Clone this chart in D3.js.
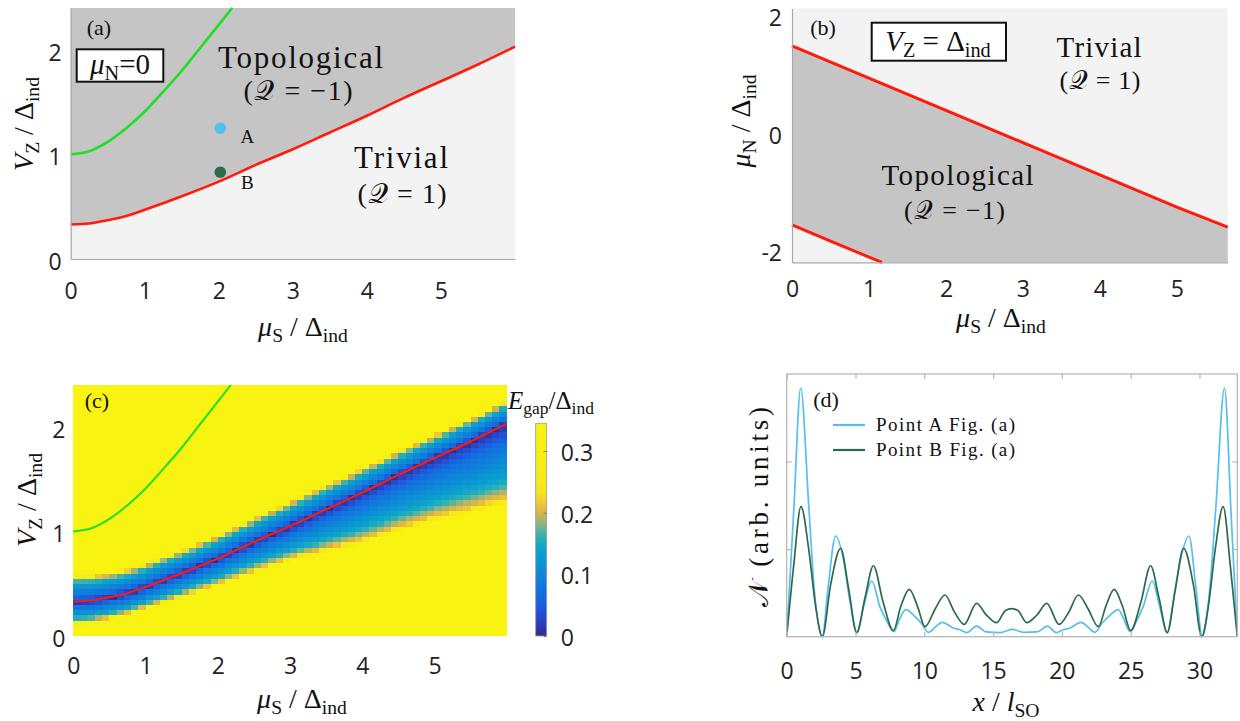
<!DOCTYPE html>
<html>
<head>
<meta charset="utf-8">
<script src="https://cdn.jsdelivr.net/npm/d3@7"></script>
<style>
  body { margin: 0; background: #fff; }
  svg { display: block; }
</style>
</head>
<body>
<div id="fig"></div>
<script>
// ---------- data ----------
// topological / trivial boundary (red) and upper gap closing (green), panels (a) and (c)
const redMu = [0, 0.25, 0.5, 0.75, 1, 1.5, 2, 2.5, 3, 3.5, 4, 4.5, 5, 5.5, 6];
const redV = [0.33, 0.34, 0.37, 0.41, 0.47, 0.6, 0.74, 0.9, 1.05, 1.21, 1.37, 1.54, 1.7, 1.86, 2.03];
const greenMu = [0, 0.25, 0.5, 0.75, 1, 1.25, 1.5, 1.75, 2, 2.18];
const greenV = [1.0, 1.03, 1.12, 1.25, 1.41, 1.6, 1.8, 2.02, 2.24, 2.4];
const pointNames = ["A", "B"];
const pointMu = [2.02, 2.02];
const pointV = [1.25, 0.83];

// panel (b): boundaries at V_Z = Delta_ind
const bUpperMu = [0, 1, 2, 3, 4, 5, 5.66];
const bUpperN = [1.48, 0.93, 0.38, -0.17, -0.72, -1.27, -1.61];
const bLowerMu = [0, 0.5, 1, 1.17];
const bLowerN = [-1.57, -1.85, -2.12, -2.21];

// panel (c): gap band around the red line (widths above / below it) and the gap profile across it
const bandMu = [0, 1, 2, 3, 4, 5, 6];
const bandUp = [0.21, 0.19, 0.19, 0.2, 0.2, 0.19, 0.19];
const bandDown = [0.18, 0.17, 0.21, 0.27, 0.4, 0.5, 0.64];
const profT = [0, 0.1, 0.3, 0.6, 0.8, 0.92, 1.0, 1.1, 1.2];
const profGap = [0, 0.03, 0.075, 0.11, 0.14, 0.165, 0.19, 0.215, 0.34];
const cmapStops = [0, 0.02, 0.05, 0.08, 0.11, 0.14, 0.16, 0.18, 0.2, 0.215, 0.235, 0.345];
const cmapColors = ["#352a87", "#2c3fbd", "#1a5fe0", "#1177dd", "#0c8fd6", "#0ba4cc", "#2ab1b5",
  "#80b58a", "#dcb24c", "#f0c832", "#f6e61e", "#f8f40f"];
const cbarTicks = [0, 0.1, 0.2, 0.3];

// panel (d): density along the wire
const xA = [0, 0.5, 1.02, 1.6, 2.0, 2.59, 3.0, 3.56, 4.1, 4.6, 5.09, 5.6, 6.18, 6.78, 7.3, 7.8, 8.2, 8.65,
  9.33, 9.8, 10.3, 10.8, 11.3, 12.1, 12.6, 13.1, 13.8, 14.5, 15.5, 16.4, 17.2, 18.2, 18.95, 19.6,
  20.1, 20.6, 21.4, 21.9, 22.4, 22.9, 23.4, 24.1, 24.5, 24.95, 25.4, 25.9, 26.57, 27.1, 27.65, 28.1,
  28.65, 29.24, 29.75, 30.2, 30.75, 31.2, 31.82, 32.3, 32.75];
const yA = [0, 1.4, 2.84, 1.5, 0.55, 0, 0.55, 1.15, 0.9, 0.4, 0.046, 0.35, 0.636, 0.34, 0.17, 0.057, 0.2, 0.31,
  0.23, 0.15, 0.05, 0.11, 0.164, 0.1, 0.08, 0.046, 0.12, 0.055, 0.046, 0.084, 0.05, 0.055, 0.12, 0.046,
  0.08, 0.1, 0.164, 0.11, 0.05, 0.15, 0.23, 0.31, 0.2, 0.06, 0.17, 0.34, 0.636, 0.35, 0.046, 0.4,
  0.9, 1.15, 0.55, 0, 0.55, 1.5, 2.84, 1.4, 0];
const xB = [0, 0.5, 1.04, 1.6, 2.1, 2.59, 3.2, 3.92, 4.5, 5.09, 5.7, 6.3, 7.0, 7.75, 8.3, 8.91, 9.5, 10.05,
  10.8, 11.5, 12.2, 12.9, 13.8, 14.5, 15.26, 15.9, 16.35, 16.8, 17.45, 18.2, 18.9, 19.8, 20.5, 21.2,
  21.9, 22.65, 23.2, 23.8, 24.4, 25.0, 25.75, 26.45, 27.05, 27.66, 28.25, 28.85, 29.55, 30.16, 30.65,
  31.15, 31.72, 32.25, 32.75];
const yB = [0, 0.8, 1.486, 1.0, 0.35, 0, 0.6, 1.01, 0.55, 0.046, 0.45, 0.81, 0.4, 0.07, 0.35, 0.54, 0.35, 0.114,
  0.32, 0.476, 0.28, 0.14, 0.38, 0.25, 0.16, 0.3, 0.32, 0.3, 0.16, 0.25, 0.38, 0.14, 0.28, 0.476,
  0.32, 0.114, 0.35, 0.54, 0.35, 0.07, 0.4, 0.81, 0.45, 0.046, 0.55, 1.01, 0.6, 0, 0.35,
  1.0, 1.486, 0.8, 0];
const legendNames = ["Point A Fig. (a)", "Point B Fig. (a)"];

// ---------- styles ----------
const serif = "'Liberation Serif', 'Times New Roman', serif";
const sans = "'Open Sans', 'DejaVu Sans', sans-serif";
const topoFill = "#c5c5c5", trivialFill = "#f3f3f3";
const redCol = "#ff1a0a", greenCol = "#1ee01e";
const colA = "#55bfee", colB = "#2d6a4d";
const axisGray = "#a8a8a8";
const smooth = d3.curveCatmullRom.alpha(0.5);

const svg = d3.select("#fig").append("svg")
  .attr("width", 1240).attr("height", 721)
  .attr("viewBox", "0 0 1240 721");

// text made of pieces: {t, i: italic, sub: subscript}
function mathText(g, parts, o) {
  const t = g.append("text")
    .attr("font-family", serif)
    .attr("font-size", o.size)
    .attr("fill", "#111")
    .attr("text-anchor", o.anchor || "middle");
  if (o.rotate) t.attr("transform", `translate(${o.x},${o.y}) rotate(-90)`);
  else t.attr("x", o.x).attr("y", o.y);
  let shift = 0;
  parts.forEach(p => {
    const s = t.append("tspan").text(p.t);
    const want = p.sub ? o.size * 0.2 : 0;
    s.attr("dy", want - shift);
    shift = want;
    if (p.sub) s.attr("font-size", o.size * 0.7);
    if (p.i) s.attr("font-style", "italic");
  });
  return t;
}
function plain(g, x, y, str, size, len) {
  const t = g.append("text").attr("x", x).attr("y", y)
    .attr("font-family", serif).attr("font-size", size)
    .attr("fill", "#111").attr("text-anchor", "middle").text(str);
  if (len) t.attr("textLength", len).attr("lengthAdjust", "spacing");
  return t;
}
function styleTicks(axisG) {
  axisG.selectAll("text")
    .attr("font-family", sans).attr("font-size", 23).attr("font-weight", 500).attr("fill", "#222");
}

const muS = [{ t: "μ", i: 1 }, { t: "S", sub: 1 }, { t: " / Δ" }, { t: "ind", sub: 1 }];
const vZ = [{ t: "V", i: 1 }, { t: "Z", sub: 1 }, { t: " / Δ" }, { t: "ind", sub: 1 }];
const muN = [{ t: "μ", i: 1 }, { t: "N", sub: 1 }, { t: " / Δ" }, { t: "ind", sub: 1 }];

// ================= panel (a) =================
const ga = svg.append("g");
const xa = d3.scaleLinear().domain([0, 6]).range([70.7, 515]);
const ya = d3.scaleLinear().domain([0, 2.4]).range([259, 8]);
const redPts = d3.zip(redMu, redV);
const greenPts = d3.zip(greenMu, greenV);

ga.append("rect").attr("x", xa(0)).attr("y", ya(2.4))
  .attr("width", xa(6) - xa(0)).attr("height", ya(0) - ya(2.4)).attr("fill", trivialFill);
ga.append("path").datum(redPts)
  .attr("d", d3.area().x(d => xa(d[0])).y0(ya(2.4)).y1(d => ya(d[1])).curve(smooth))
  .attr("fill", topoFill);
ga.append("path").datum(greenPts)
  .attr("d", d3.line().x(d => xa(d[0])).y(d => ya(d[1])).curve(smooth))
  .attr("fill", "none").attr("stroke", greenCol).attr("stroke-width", 2.6);
ga.append("path").datum(redPts)
  .attr("d", d3.line().x(d => xa(d[0])).y(d => ya(d[1])).curve(smooth))
  .attr("fill", "none").attr("stroke", redCol).attr("stroke-width", 2.6);

const axA = ga.append("g").attr("transform", `translate(0,${ya(0)})`)
  .call(d3.axisBottom(xa).tickValues([0, 1, 2, 3, 4, 5]).tickSize(0).tickPadding(24).tickFormat(d3.format("d")));
const ayA = ga.append("g").attr("transform", `translate(${xa(0)},0)`)
  .call(d3.axisLeft(ya).tickValues([0, 1, 2]).tickSize(0).tickPadding(9).tickFormat(d3.format("d")));
[axA, ayA].forEach(a => { a.select(".domain").attr("stroke", axisGray).attr("stroke-width", 1.2); styleTicks(a); });
ayA.selectAll("text").attr("y", 3);

ga.selectAll("circle.pt").data(pointNames).join("circle")
  .attr("cx", (d, i) => xa(pointMu[i])).attr("cy", (d, i) => ya(pointV[i]))
  .attr("r", 5.8).attr("fill", (d, i) => i === 0 ? colA : colB);
ga.selectAll("text.ptl").data(pointNames).join("text")
  .attr("x", (d, i) => xa(pointMu[i]) + 27).attr("y", (d, i) => ya(pointV[i]) + (i === 0 ? 15 : 17))
  .attr("font-family", serif).attr("font-size", 19).attr("fill", "#111").attr("text-anchor", "middle")
  .text(d => d);

plain(ga, 99, 35, "(a)", 22);
ga.append("rect").attr("x", 76.7).attr("y", 49.3).attr("width", 86.6).attr("height", 32.4)
  .attr("fill", "#fff").attr("stroke", "#111").attr("stroke-width", 2);
mathText(ga, [{ t: "μ", i: 1 }, { t: "N", sub: 1 }, { t: "=0" }], { x: 120, y: 74, size: 29 });
plain(ga, 300.5, 68, "Topological", 31, 165);
plain(ga, 298, 100, "(𝒬 = −1)", 28, 109);
plain(ga, 401, 168, "Trivial", 31, 94);
plain(ga, 402, 203, "(𝒬 = 1)", 28, 89);
mathText(ga, vZ, { x: 33, y: 124, size: 28, rotate: true });
mathText(ga, muS, { x: 303, y: 336, size: 28 });

// ================= panel (b) =================
const gb = svg.append("g");
const xb = d3.scaleLinear().domain([0, 5.66]).range([792, 1227.7]);
const yb = d3.scaleLinear().domain([-2.21, 2.12]).range([262.3, 8.3]);
const [bx0, bx1] = xb.domain(), [by0, by1] = yb.domain();
gb.append("rect").attr("x", xb(bx0)).attr("y", yb(by1))
  .attr("width", xb(bx1) - xb(bx0)).attr("height", yb(by0) - yb(by1)).attr("fill", trivialFill);
const upPts = d3.zip(bUpperMu, bUpperN);
const lowPts = d3.zip(bLowerMu, bLowerN);
const poly = [...upPts, [bx1, by0], ...lowPts.slice().reverse()];
gb.append("path").attr("d", d3.line().x(d => xb(d[0])).y(d => yb(d[1]))(poly) + "Z").attr("fill", topoFill);
[upPts, lowPts].forEach(p => gb.append("path")
  .attr("d", d3.line().x(d => xb(d[0])).y(d => yb(d[1]))(p))
  .attr("fill", "none").attr("stroke", redCol).attr("stroke-width", 3));

const axB = gb.append("g").attr("transform", `translate(0,${yb(by0)})`)
  .call(d3.axisBottom(xb).tickValues([0, 1, 2, 3, 4, 5]).tickSize(0).tickPadding(18).tickFormat(d3.format("d")));
const ayB = gb.append("g").attr("transform", `translate(${xb(0)},0)`)
  .call(d3.axisLeft(yb).tickValues([-2, 0, 2]).tickSize(0).tickPadding(10).tickFormat(d => String(d)));
[axB, ayB].forEach(a => { a.select(".domain").attr("stroke", axisGray).attr("stroke-width", 1.2); styleTicks(a); });
ayB.selectAll("text").attr("y", 3);

plain(gb, 823, 35, "(b)", 22);
gb.append("rect").attr("x", 871.7).attr("y", 22.7).attr("width", 134.3).attr("height", 38)
  .attr("fill", "#fff").attr("stroke", "#111").attr("stroke-width", 2);
mathText(gb, [{ t: "V", i: 1 }, { t: "Z", sub: 1 }, { t: " = Δ" }, { t: "ind", sub: 1 }], { x: 938, y: 51, size: 29 });
plain(gb, 1099, 57, "Trivial", 29, 85);
plain(gb, 1100, 89, "(𝒬 = 1)", 26, 81);
plain(gb, 957.5, 185, "Topological", 29, 152);
plain(gb, 954.5, 219, "(𝒬 = −1)", 26, 101);
mathText(gb, muN, { x: 750, y: 121, size: 28, rotate: true });
mathText(gb, muS, { x: 1001, y: 327, size: 28 });

// ================= panel (c) =================
const gc = svg.append("g");
const xc = d3.scaleLinear().domain([0, 6]).range([73.3, 506.7]);
const yc = d3.scaleLinear().domain([0, 2.4]).range([636, 385]);
const redAt = d3.scaleLinear().domain(redMu).range(redV);
const upAt = d3.scaleLinear().domain(bandMu).range(bandUp);
const downAt = d3.scaleLinear().domain(bandMu).range(bandDown);
const gapAt = d3.scaleLinear().domain(profT).range(profGap).clamp(true);
const cmap = d3.scaleLinear().domain(cmapStops).range(cmapColors).clamp(true);

const dMu = 0.1, dV = 0.05;
const cells = [];
d3.range(60).forEach(i => d3.range(48).forEach(j => {
  const m = (i + 0.5) * dMu, v = (j + 0.5) * dV;
  const d = v - redAt(m);
  const t = d >= 0 ? d / upAt(m) : -d / downAt(m);
  cells.push({ m: i * dMu, v: j * dV, gap: gapAt(t) });
}));
gc.append("g").attr("shape-rendering", "crispEdges")
  .selectAll("rect").data(cells).join("rect")
  .attr("x", d => xc(d.m)).attr("y", d => yc(d.v + dV))
  .attr("width", xc(dMu) - xc(0) + 0.4).attr("height", yc(0) - yc(dV) + 0.4)
  .attr("fill", d => cmap(d.gap));

gc.append("path").datum(greenPts)
  .attr("d", d3.line().x(d => xc(d[0])).y(d => yc(d[1])).curve(smooth))
  .attr("fill", "none").attr("stroke", greenCol).attr("stroke-width", 2);
gc.append("path").datum(redPts)
  .attr("d", d3.line().x(d => xc(d[0])).y(d => yc(d[1])).curve(smooth))
  .attr("fill", "none").attr("stroke", redCol).attr("stroke-width", 2);

const axC = gc.append("g").attr("transform", `translate(0,${yc(0)})`)
  .call(d3.axisBottom(xc).tickValues([0, 1, 2, 3, 4, 5]).tickSize(0).tickPadding(22).tickFormat(d3.format("d")));
const ayC = gc.append("g").attr("transform", `translate(${xc(0)},0)`)
  .call(d3.axisLeft(yc).tickValues([0, 1, 2]).tickSize(0).tickPadding(8).tickFormat(d3.format("d")));
[axC, ayC].forEach(a => { a.select(".domain").remove(); styleTicks(a); });
ayC.selectAll("text").attr("y", 3);

// colorbar
const yCb = d3.scaleLinear().domain([0, 0.345]).range([636, 423.3]);
const grad = svg.append("defs").append("linearGradient").attr("id", "cbar")
  .attr("x1", 0).attr("y1", 1).attr("x2", 0).attr("y2", 0);
grad.selectAll("stop").data(cmapStops).join("stop")
  .attr("offset", d => d / 0.345).attr("stop-color", (d, i) => cmapColors[i]);
gc.append("rect").attr("x", 535.7).attr("y", yCb(0.345)).attr("width", 11).attr("height", yCb(0) - yCb(0.345))
  .attr("fill", "url(#cbar)").attr("stroke", "#9a9a9a").attr("stroke-width", 0.8);
const aCb = gc.append("g").attr("transform", "translate(546.7,0)")
  .call(d3.axisRight(yCb).tickValues(cbarTicks).tickSizeInner(-3).tickSizeOuter(0).tickPadding(14)
    .tickFormat(d => d === 0 ? "0" : d3.format(".1f")(d)));
aCb.select(".domain").remove();
aCb.selectAll("line").attr("stroke", "#777");
styleTicks(aCb);
aCb.selectAll("text").attr("y", 2);

plain(gc, 97, 408, "(c)", 22);
mathText(gc, [{ t: "E", i: 1 }, { t: "gap", sub: 1 }, { t: "/Δ" }, { t: "ind", sub: 1 }],
  { x: 508, y: 409, size: 25, anchor: "start" });
mathText(gc, vZ, { x: 36, y: 500, size: 28, rotate: true });
mathText(gc, muS, { x: 302, y: 708, size: 28 });

// ================= panel (d) =================
const gd = svg.append("g");
const xd = d3.scaleLinear().domain([0, 32.75]).range([786.7, 1237.3]);
const yd = d3.scaleLinear().domain([0, 3]).range([636.7, 374]);
const frameCol = "#b8b8b8";

const lineD = d3.line().x(d => xd(d[0])).y(d => yd(d[1])).curve(d3.curveMonotoneX);
gd.append("path").datum(d3.zip(xA, yA)).attr("d", lineD)
  .attr("fill", "none").attr("stroke", colA).attr("stroke-width", 1.7);
gd.append("path").datum(d3.zip(xB, yB)).attr("d", lineD)
  .attr("fill", "none").attr("stroke", colB).attr("stroke-width", 1.7);

const xTicksD = [0, 5, 10, 15, 20, 25, 30];
const axD = gd.append("g").attr("transform", `translate(0,${yd(0)})`)
  .call(d3.axisBottom(xd).tickValues(xTicksD).tickSizeInner(-5).tickSizeOuter(0).tickPadding(26));
const axDt = gd.append("g").attr("transform", `translate(0,${yd(3)})`)
  .call(d3.axisTop(xd).tickValues(xTicksD).tickSizeInner(-5).tickSizeOuter(0).tickFormat(""));
const ayD = gd.append("g").attr("transform", `translate(${xd(0)},0)`)
  .call(d3.axisLeft(yd).tickValues([1, 2]).tickSizeInner(-5).tickSizeOuter(0).tickFormat(""));
const ayDr = gd.append("g").attr("transform", `translate(${xd(32.75)},0)`)
  .call(d3.axisRight(yd).tickValues([1, 2]).tickSizeInner(-5).tickSizeOuter(0).tickFormat(""));
[axD, axDt, ayD, ayDr].forEach(a => {
  a.select(".domain").remove();
  a.selectAll("line").attr("stroke", frameCol).attr("stroke-width", 1.2);
});
styleTicks(axD);
gd.append("rect").attr("x", xd(0)).attr("y", yd(3)).attr("width", xd(32.75) - xd(0)).attr("height", yd(0) - yd(3))
  .attr("fill", "none").attr("stroke", frameCol).attr("stroke-width", 1.3);

// legend
const legY = [425, 450];
legendNames.forEach((name, i) => {
  gd.append("line").attr("x1", 833).attr("x2", 865).attr("y1", legY[i]).attr("y2", legY[i])
    .attr("stroke", i === 0 ? colA : colB).attr("stroke-width", 2.2);
  gd.append("text").attr("x", 876).attr("y", legY[i] + 6)
    .attr("font-family", serif).attr("font-size", 19).attr("fill", "#111")
    .attr("textLength", 139).attr("lengthAdjust", "spacing").text(name);
});
plain(gd, 826, 407, "(d)", 22);
const nLabel = mathText(gd, [{ t: "𝒩 (arb. units)" }], { x: 768, y: 507, size: 27, rotate: true });
nLabel.attr("textLength", 200).attr("lengthAdjust", "spacing");
mathText(gd, [{ t: "x", i: 1 }, { t: " / " }, { t: "l", i: 1 }, { t: "SO", sub: 1 }], { x: 1006, y: 711, size: 28 });
</script>
</body>
</html>
